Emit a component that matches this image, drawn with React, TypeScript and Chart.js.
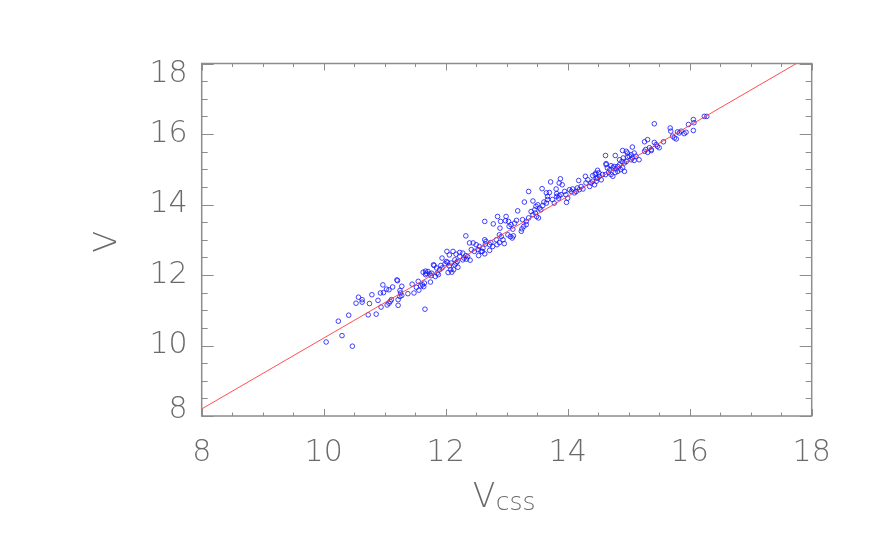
import React, { useEffect, useRef } from 'react';
import { Chart, registerables } from 'chart.js';

Chart.register(...registerables);

const vcss = [
  10.04, 10.47, 10.30, 10.24, 10.41, 10.73, 10.86, 10.94, 10.53, 10.57, 10.63, 10.63, 10.75, 10.79, 10.89, 10.93, 10.97, 10.98,
  11.03, 11.07, 11.13, 11.04, 11.07, 11.09, 11.11, 11.21, 11.22, 11.28, 11.25, 11.26, 11.25, 11.28, 11.22, 11.38, 11.45, 11.48,
  11.52, 11.55, 11.56, 11.59, 11.62, 11.64, 11.65, 11.66, 11.63, 11.67, 11.67, 11.71, 11.74, 11.77, 11.75, 11.81, 11.83, 11.86,
  11.88, 11.92, 11.94, 11.94, 11.99, 12.03, 12.06, 12.04, 12.08, 12.10, 12.13, 12.02, 12.06, 12.15, 12.17, 12.19, 12.12, 12.17,
  12.23, 12.28, 12.34, 12.30, 12.36, 12.40, 12.33, 12.54, 12.60, 12.64, 12.72, 12.20, 12.01, 12.09, 12.15, 11.80, 11.85, 11.90,
  11.68, 11.76, 11.20, 12.33, 12.23, 12.28, 12.39, 12.45, 12.50, 12.42, 12.47, 12.53, 12.55,
  12.58, 12.61, 12.65, 12.64, 12.66, 12.64, 12.72, 12.77, 12.74, 12.78, 12.85, 12.90, 12.89, 12.83, 12.84, 12.88, 12.94, 12.96,
  12.99, 12.98, 13.03, 13.04, 13.07, 13.10, 13.13, 13.16, 13.02, 13.06, 13.09, 13.11, 12.88, 12.91, 13.18, 13.24, 13.25, 13.28,
  13.32, 13.26, 13.32, 13.36, 13.29, 13.36, 13.43, 13.40, 13.43, 13.46, 13.47, 13.49, 13.48, 13.51, 13.54, 13.56, 13.59, 13.52,
  13.58, 13.61, 13.65, 13.67, 13.65, 13.67, 13.70, 13.72, 13.75, 13.78, 13.82, 13.85, 13.81, 13.82, 13.86, 13.89, 13.86, 13.88,
  13.91, 13.95, 13.97, 13.98, 14.00, 14.03, 14.06, 14.08, 14.11, 14.18, 14.14, 14.16, 14.19, 14.22, 14.25, 14.29, 14.30, 14.33,
  14.36, 14.38, 14.41, 14.44, 14.45, 14.49, 14.51, 14.47, 14.52, 14.55, 14.57, 14.62, 14.63, 14.65, 14.67, 14.69, 14.71, 14.74,
  14.76, 14.79, 14.82, 14.85, 14.87, 14.90, 14.93, 14.78, 14.85, 14.91, 14.96, 14.98, 14.96, 14.98, 15.04, 15.06, 15.09, 15.12,
  15.17, 15.26, 15.31, 15.37,
  14.41, 14.46, 14.49, 14.47, 14.63, 14.62, 14.71, 14.74, 14.78, 14.82, 14.89, 14.93, 14.90, 15.01, 15.04, 15.06, 15.09, 15.26,
  15.31, 15.28, 15.34, 15.37, 15.42, 15.42, 15.45, 15.47, 15.50, 15.57, 15.68, 15.69, 15.72, 15.75, 15.78, 15.80, 15.83, 15.86,
  15.91, 15.94, 15.98, 16.06, 16.07, 16.06, 16.24, 16.28,
];

const v = [
  10.10, 9.98, 10.28, 10.69, 10.86, 10.87, 10.89, 11.09, 11.20, 11.37, 11.30, 11.23, 11.19, 11.44, 11.28, 11.49, 11.72, 11.50,
  11.60, 11.58, 11.66, 11.15, 11.20, 11.25, 11.30, 11.84, 11.14, 11.68, 11.56, 11.49, 11.39, 11.42, 11.30, 11.47, 11.74, 11.49,
  11.65, 11.82, 11.57, 11.69, 11.72, 11.67, 11.77, 11.03, 12.08, 12.11, 12.01, 12.10, 12.03, 12.05, 11.80, 12.27, 11.96, 12.05,
  12.01, 12.27, 12.20, 12.48, 12.32, 12.36, 12.26, 12.07, 12.15, 12.08, 12.15, 12.67, 12.57, 12.43, 12.34, 12.38, 12.67, 12.59,
  12.53, 12.43, 12.45, 12.48, 12.52, 12.42, 12.55, 12.55, 12.67, 12.60, 12.70, 12.22, 12.38, 12.34, 12.29, 12.29, 12.20, 12.15,
  12.05, 11.98, 11.86, 13.11, 12.64, 12.62, 12.91, 12.91, 12.86, 12.72, 12.67, 12.72, 12.81,
  12.67, 12.76, 12.88, 13.00, 12.95, 13.52, 12.86, 12.81, 12.92, 13.45, 13.66, 13.52, 13.33, 13.00, 12.86, 12.92, 13.00, 12.89,
  13.66, 13.54, 13.52, 13.38, 13.43, 13.30, 13.47, 13.55, 13.14, 13.09, 13.05, 13.11, 13.14, 13.09, 13.82, 13.24, 13.31, 13.38,
  13.43, 13.57, 13.52, 13.62, 14.07, 14.37, 14.10, 13.80, 13.71, 13.85, 13.76, 13.66, 13.95, 13.99, 13.90, 13.85, 13.97, 13.62,
  14.45, 14.07, 14.04, 14.14, 14.33, 14.23, 14.34, 14.64, 14.14, 14.04, 14.23, 14.18, 14.44, 14.31, 14.25, 14.28, 14.61, 14.73,
  14.56, 14.37, 14.28, 14.06, 14.18, 14.42, 14.37, 14.44, 14.33, 14.68, 14.37, 14.47, 14.42, 14.51, 14.44, 14.80, 14.61, 14.70,
  14.51, 14.61, 14.66, 14.56, 14.85, 14.97, 14.90, 14.75, 14.80, 14.70, 14.85, 15.39, 15.13, 15.04, 14.91, 14.99, 15.10, 15.04,
  15.08, 15.01, 15.08, 15.13, 14.99, 15.04, 14.94, 15.39, 15.27, 15.32, 15.22, 15.35, 15.51, 15.46, 15.41, 15.32, 15.25, 15.37,
  15.27, 15.51, 15.48, 15.53,
  14.82, 14.89, 14.75, 14.66, 15.16, 14.85, 14.85, 14.80, 14.91, 14.94, 15.22, 15.18, 15.53, 15.37, 15.27, 15.63, 15.46, 15.78,
  15.84, 15.56, 15.61, 15.56, 16.29, 15.76, 15.70, 15.65, 15.61, 15.78, 16.17, 16.08, 15.94, 15.89, 15.86, 16.06, 16.03, 16.08,
  16.01, 16.05, 16.27, 16.41, 16.32, 16.10, 16.50, 16.50,
];

const fitX = [8, 17.75];
const fitY = [8.2, 18.0];

const xTickValues = [8, 10, 12, 14, 16, 18];
const yTickValues = [8, 10, 12, 14, 16, 18];
const xTitleMain = 'V';
const xTitleSub = 'css';
const yTitle = 'V';

const FONT = '"DejaVu Sans", sans-serif';
const TEXT_COLOR = '#6a6a6a';
const AXIS_COLOR = '#8c8c8c';

const idlFrame = {
  id: 'idlFrame',
  afterDraw(chart: any) {
    const { ctx, chartArea: a, scales } = chart;
    const xs = scales.x;
    const ys = scales.y;
    ctx.save();
    ctx.strokeStyle = AXIS_COLOR;
    ctx.lineWidth = 1.5;
    ctx.strokeRect(a.left, a.top, a.right - a.left, a.bottom - a.top);
    ctx.lineWidth = 1;
    const seg = (x1: number, y1: number, x2: number, y2: number) => {
      ctx.beginPath();
      ctx.moveTo(x1, y1);
      ctx.lineTo(x2, y2);
      ctx.stroke();
    };
    for (let i = 0; i <= 20; i++) {
      const val = 8 + i * 0.5;
      const major = i % 4 === 0;
      const px = Math.round(xs.getPixelForValue(val)) + 0.5;
      const lx = major ? 7 : 3.5;
      seg(px, a.bottom, px, a.bottom - lx);
      seg(px, a.top, px, a.top + lx);
      const py = Math.round(ys.getPixelForValue(val)) + 0.5;
      const ly = major ? 12 : 6;
      seg(a.left, py, a.left + ly, py);
      seg(a.right, py, a.right - ly, py);
    }
    ctx.fillStyle = TEXT_COLOR;
    ctx.font = `200 30px ${FONT}`;
    ctx.textAlign = 'center';
    ctx.textBaseline = 'middle';
    xTickValues.forEach((t) => {
      ctx.fillText(String(t), xs.getPixelForValue(t), a.bottom + 37);
    });
    ctx.textAlign = 'right';
    yTickValues.forEach((t, i) => {
      let py = ys.getPixelForValue(t);
      if (i === yTickValues.length - 1) py += 11;
      if (i === 0) py -= 6;
      ctx.fillText(String(t), a.left - 14, py);
    });
    // x title with subscript
    ctx.textAlign = 'left';
    ctx.textBaseline = 'alphabetic';
    ctx.font = `200 33px ${FONT}`;
    const cx = (a.left + a.right) / 2;
    ctx.fillText(xTitleMain, cx - 34, a.bottom + 91);
    ctx.font = `200 25px ${FONT}`;
    ctx.fillText(xTitleSub, cx - 11, a.bottom + 94);
    // y title rotated
    ctx.save();
    ctx.translate(108, (a.top + a.bottom) / 2 + 2);
    ctx.rotate(-Math.PI / 2);
    ctx.textAlign = 'center';
    ctx.textBaseline = 'middle';
    ctx.font = `200 32px ${FONT}`;
    ctx.fillText(yTitle, 0, 0);
    ctx.restore();
    ctx.restore();
  },
};

export default function App() {
  const ref = useRef<HTMLCanvasElement>(null);
  useEffect(() => {
    if (!ref.current) return;
    const chart = new Chart(ref.current, {
      type: 'scatter',
      data: {
        datasets: [
          {
            type: 'line',
            data: fitX.map((x, i) => ({ x, y: fitY[i] })),
            borderColor: 'rgba(255,60,60,0.9)',
            borderWidth: 1,
            pointRadius: 0,
            fill: false,
          } as any,
          {
            data: vcss.map((x, i) => ({ x, y: v[i] })),
            pointStyle: 'circle',
            pointRadius: 2.3,
            borderWidth: 1,
            borderColor: 'rgba(20,20,255,0.8)',
            backgroundColor: 'rgba(0,0,0,0)',
          },
        ],
      },
      options: {
        animation: false,
        responsive: false,
        events: [],
        layout: { padding: { left: 201.7, right: 60.3, top: 63.5, bottom: 129 } },
        plugins: { legend: { display: false }, tooltip: { enabled: false } },
        scales: {
          x: { type: 'linear', min: 8, max: 18, display: false },
          y: { type: 'linear', min: 8, max: 18, display: false },
        },
      },
      plugins: [idlFrame],
    });
    return () => chart.destroy();
  }, []);
  return (
    <div style={{ position: 'fixed', left: 0, top: 0, width: 872, height: 545, background: '#fff' }}>
      <canvas ref={ref} width={872} height={545} style={{ display: 'block' }} />
    </div>
  );
}
